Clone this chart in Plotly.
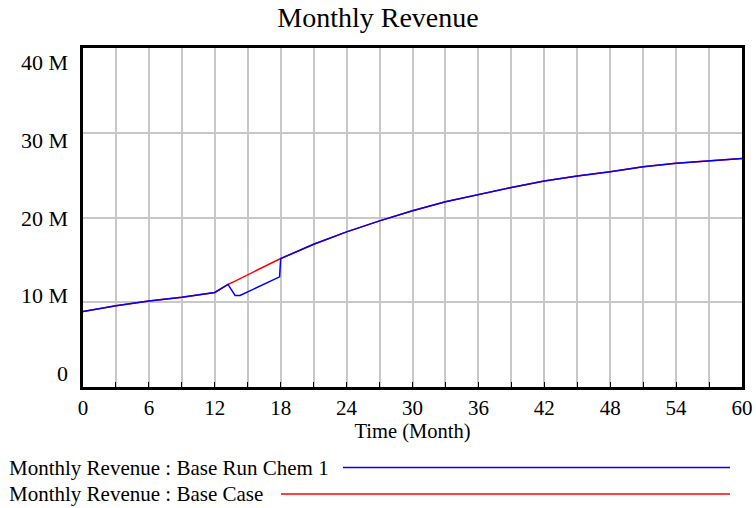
import plotly.graph_objects as go

# ---- data (values in millions) ----
months = [0, 3, 6, 9, 12, 13.2, 13.85, 14.3, 17.9, 18, 21, 24, 27, 30, 33, 36, 39, 42, 45, 48, 51, 54, 57, 60]
base_run_chem1 = [8.9, 9.6, 10.15, 10.6, 11.15, 12.1, 10.8, 10.8, 13.0, 15.15, 16.85, 18.3, 19.6, 20.8,
                  21.85, 22.7, 23.55, 24.3, 24.9, 25.4, 26.0, 26.4, 26.7, 26.95]
base_case = [8.9, 9.6, 10.15, 10.6, 11.15, 12.1, 12.5, 12.8, 15.1, 15.15, 16.85, 18.3, 19.6, 20.8,
             21.85, 22.7, 23.55, 24.3, 24.9, 25.4, 26.0, 26.4, 26.7, 26.95]
y_ticks = [0, 10, 20, 30, 40]
y_tick_labels = ["0", "10 M", "20 M", "30 M", "40 M"]
x_grid = list(range(0, 61, 3))
x_tick_labels = [str(v) if v % 6 == 0 else "" for v in x_grid]
series_names = ["Monthly Revenue : Base Run Chem 1", "Monthly Revenue : Base Case"]

W, H = 756, 508
L, R, T, B = 83, 742, 48, 387
FONT = "Liberation Serif"


def px_x(px):
    return (px - L) / (R - L)


def px_y(py):
    return (B - py) / (B - T)


fig = go.Figure()
fig.add_trace(go.Scatter(x=months, y=base_case, mode="lines", line=dict(color="#ff0000", width=1.5),
                         name=series_names[1], showlegend=False))
fig.add_trace(go.Scatter(x=months, y=base_run_chem1, mode="lines", line=dict(color="#0000ff", width=1.5),
                         name=series_names[0], showlegend=False))
# anchor for label axis
fig.add_trace(go.Scatter(x=[0], y=[0], yaxis="y2", mode="markers", marker=dict(size=0.1, opacity=0),
                         showlegend=False, hoverinfo="skip"))

fig.update_layout(
    width=W, height=H,
    margin=dict(l=L, r=W - R, t=T, b=H - B, autoexpand=False),
    paper_bgcolor="white", plot_bgcolor="white",
    font=dict(family=FONT, color="black", size=21),
    title=dict(text="Monthly Revenue", x=0.5, xref="container", xanchor="center",
               y=1 - 17 / H, yref="container", yanchor="middle",
               font=dict(family=FONT, size=28, color="black")),
    xaxis=dict(range=[0, 60], tickvals=x_grid, ticktext=x_tick_labels, automargin=False,
               showgrid=True, gridcolor="#c8c8c8", gridwidth=1.5,
               showline=True, linecolor="black", linewidth=3, mirror=True,
               ticks="inside", ticklen=5, tickcolor="black", tickwidth=1,
               tickfont=dict(family=FONT, size=21, color="black"),
               ticklabelstandoff=0, zeroline=False,
               title=dict(text="Time (Month)", standoff=4,
                          font=dict(family=FONT, size=20.5, color="black"))),
    yaxis=dict(range=[0, 40], tickvals=[10, 20, 30], showticklabels=False, automargin=False,
               showgrid=True, gridcolor="#c8c8c8", gridwidth=1.5,
               showline=True, linecolor="black", linewidth=3, mirror=True,
               ticks="", zeroline=False),
    yaxis2=dict(overlaying="y", side="left", range=[-1.8, 41.9], tickvals=y_ticks, automargin=False,
                ticktext=y_tick_labels, showgrid=False, zeroline=False, showline=False,
                ticks="", ticklabelstandoff=14,
                tickfont=dict(family=FONT, size=22, color="black")),
    showlegend=False,
)

legend_rows = [(467.5, 343, "#0000ff", series_names[0]), (494, 281, "#ff0000", series_names[1])]
for ypix, x0pix, col, name in legend_rows:
    fig.add_annotation(text=name, xref="paper", yref="paper", x=px_x(7), y=px_y(ypix),
                       xanchor="left", yanchor="middle", showarrow=False,
                       font=dict(family=FONT, size=21, color="black"))
    fig.add_shape(type="line", xref="paper", yref="paper", x0=px_x(x0pix), x1=px_x(730),
                  y0=px_y(ypix), y1=px_y(ypix), line=dict(color=col, width=1.5))

fig.write_html("out.html", post_script="document.body.style.margin='0';",
               config={"displayModeBar": False})
